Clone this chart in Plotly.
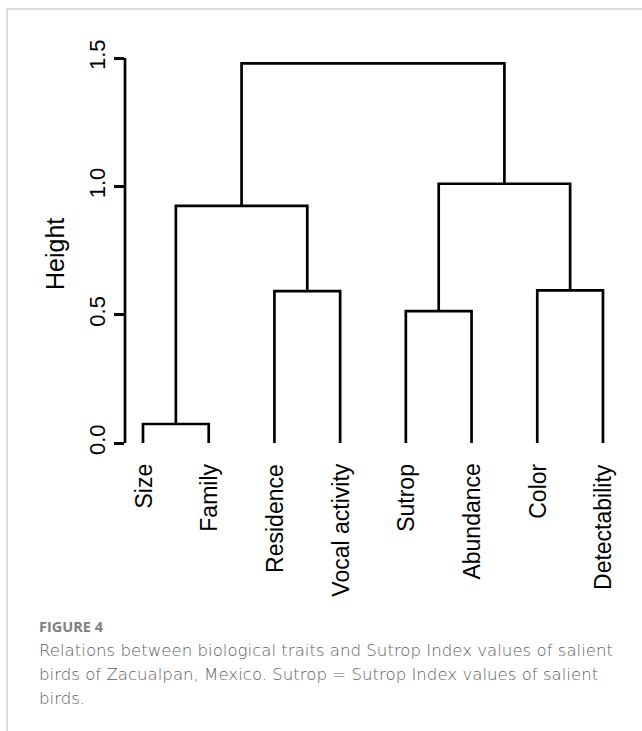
import plotly.graph_objects as go

# Leaf labels in dendrogram order
labels = ["Size", "Family", "Residence", "Vocal activity",
          "Sutrop", "Abundance", "Color", "Detectability"]

# hclust-style merge table: negative = leaf (1-based), positive = earlier merge step
merge = [(-1, -2), (-5, -6), (-3, -4), (-7, -8), (1, 3), (2, 4), (5, 6)]
heights = [0.074, 0.514, 0.592, 0.595, 0.924, 1.010, 1.479]

y_ticks = [0.0, 0.5, 1.0, 1.5]
y_ticktext = ["0.0", "0.5", "1.0", "1.5"]

caption_title = "FIGURE 4"
caption_lines = [
    "Relations between biological traits and Sutrop Index values of salient",
    "birds of Zacualpan, Mexico. Sutrop = Sutrop Index values of salient",
    "birds.",
]

W, H = 642, 731

# ---- build dendrogram segments -------------------------------------------
node_x, node_y = {}, {}


def pos(ref):
    if ref < 0:
        return float(-ref), 0.0
    return node_x[ref], node_y[ref]


xs, ys = [], []
for step, ((a, b), h) in enumerate(zip(merge, heights), start=1):
    xa, ya = pos(a)
    xb, yb = pos(b)
    xs += [xa, xa, xb, xb, None]
    ys += [ya, h, h, yb, None]
    node_x[step] = (xa + xb) / 2
    node_y[step] = h

fig = go.Figure()
fig.add_trace(go.Scatter(
    x=xs, y=ys, mode="lines",
    line=dict(color="black", width=2.7),
    hoverinfo="skip", showlegend=False,
))

# ---- axes geometry (pixels) ------------------------------------------------
leaf0_px, leaf_step = 143.0, 65.71
x_left_px, x_right_px = 125.0, 635.0
x_lo = 1 + (x_left_px - leaf0_px) / leaf_step
x_hi = 1 + (x_right_px - leaf0_px) / leaf_step

y0_px, y15_px = 443.0, 58.0
ppu = (y0_px - y15_px) / 1.5
y_lo, y_hi = -0.1, 1.6
bot_px = y0_px - y_lo * ppu
top_px = y0_px - y_hi * ppu

fig.update_xaxes(
    domain=[x_left_px / W, x_right_px / W], range=[x_lo, x_hi],
    showgrid=False, zeroline=False, showline=False,
    showticklabels=False, ticks="",
)
fig.update_yaxes(
    domain=[1 - bot_px / H, 1 - top_px / H], range=[y_lo, y_hi],
    showgrid=False, zeroline=False, showline=False,
    tickmode="array", tickvals=y_ticks, ticktext=y_ticktext,
    ticks="outside", ticklen=10, tickwidth=2.7, tickcolor="black",
    tickangle=-90,
    tickfont=dict(family="Liberation Sans, Arial", size=22, color="black"),
)

shapes = [
    # y axis line spanning the tick range
    dict(type="line", xref="x domain", yref="y", x0=0, x1=0, y0=0, y1=1.5,
         line=dict(color="black", width=2.7)),
    # panel frame (top and left)
    dict(type="line", xref="paper", yref="paper", x0=7 / W, x1=1,
         y0=1 - 9 / H, y1=1 - 9 / H, line=dict(color="#cfcfcf", width=1.5)),
    dict(type="line", xref="paper", yref="paper", x0=7 / W, x1=7 / W,
         y0=0, y1=1 - 9 / H, line=dict(color="#cfcfcf", width=1.5)),
]

annotations = []
for i, lab in enumerate(labels, start=1):
    annotations.append(dict(
        x=i, xref="x", y=1 - 462 / H, yref="paper",
        text=lab, textangle=-90, showarrow=False,
        xanchor="center", yanchor="top",
        font=dict(family="Liberation Sans, Arial", size=23, color="black"),
    ))

annotations.append(dict(
    x=55 / W, xref="paper", y=1 - 254 / H, yref="paper",
    text="Height", textangle=-90, showarrow=False,
    xanchor="center", yanchor="middle",
    font=dict(family="Liberation Sans, Arial", size=25, color="black"),
))

annotations.append(dict(
    x=37 / W, xref="paper", y=1 - 626 / H, yref="paper",
    text="<b>" + caption_title + "</b>", showarrow=False,
    xanchor="left", yanchor="middle",
    font=dict(family="Open Sans", size=14.5, color="#808080"),
))
for k, line in enumerate(caption_lines):
    annotations.append(dict(
        x=37 / W, xref="paper", y=1 - (650.5 + 24 * k) / H, yref="paper",
        text=line, showarrow=False, xanchor="left", yanchor="middle",
        font=dict(family="DejaVu Sans", size=16.6, color="#5e5e5e", weight=300),
    ))

fig.update_layout(
    width=W, height=H,
    margin=dict(l=0, r=0, t=0, b=0),
    paper_bgcolor="white", plot_bgcolor="white",
    shapes=shapes, annotations=annotations,
)

fig.write_html("out.html")
